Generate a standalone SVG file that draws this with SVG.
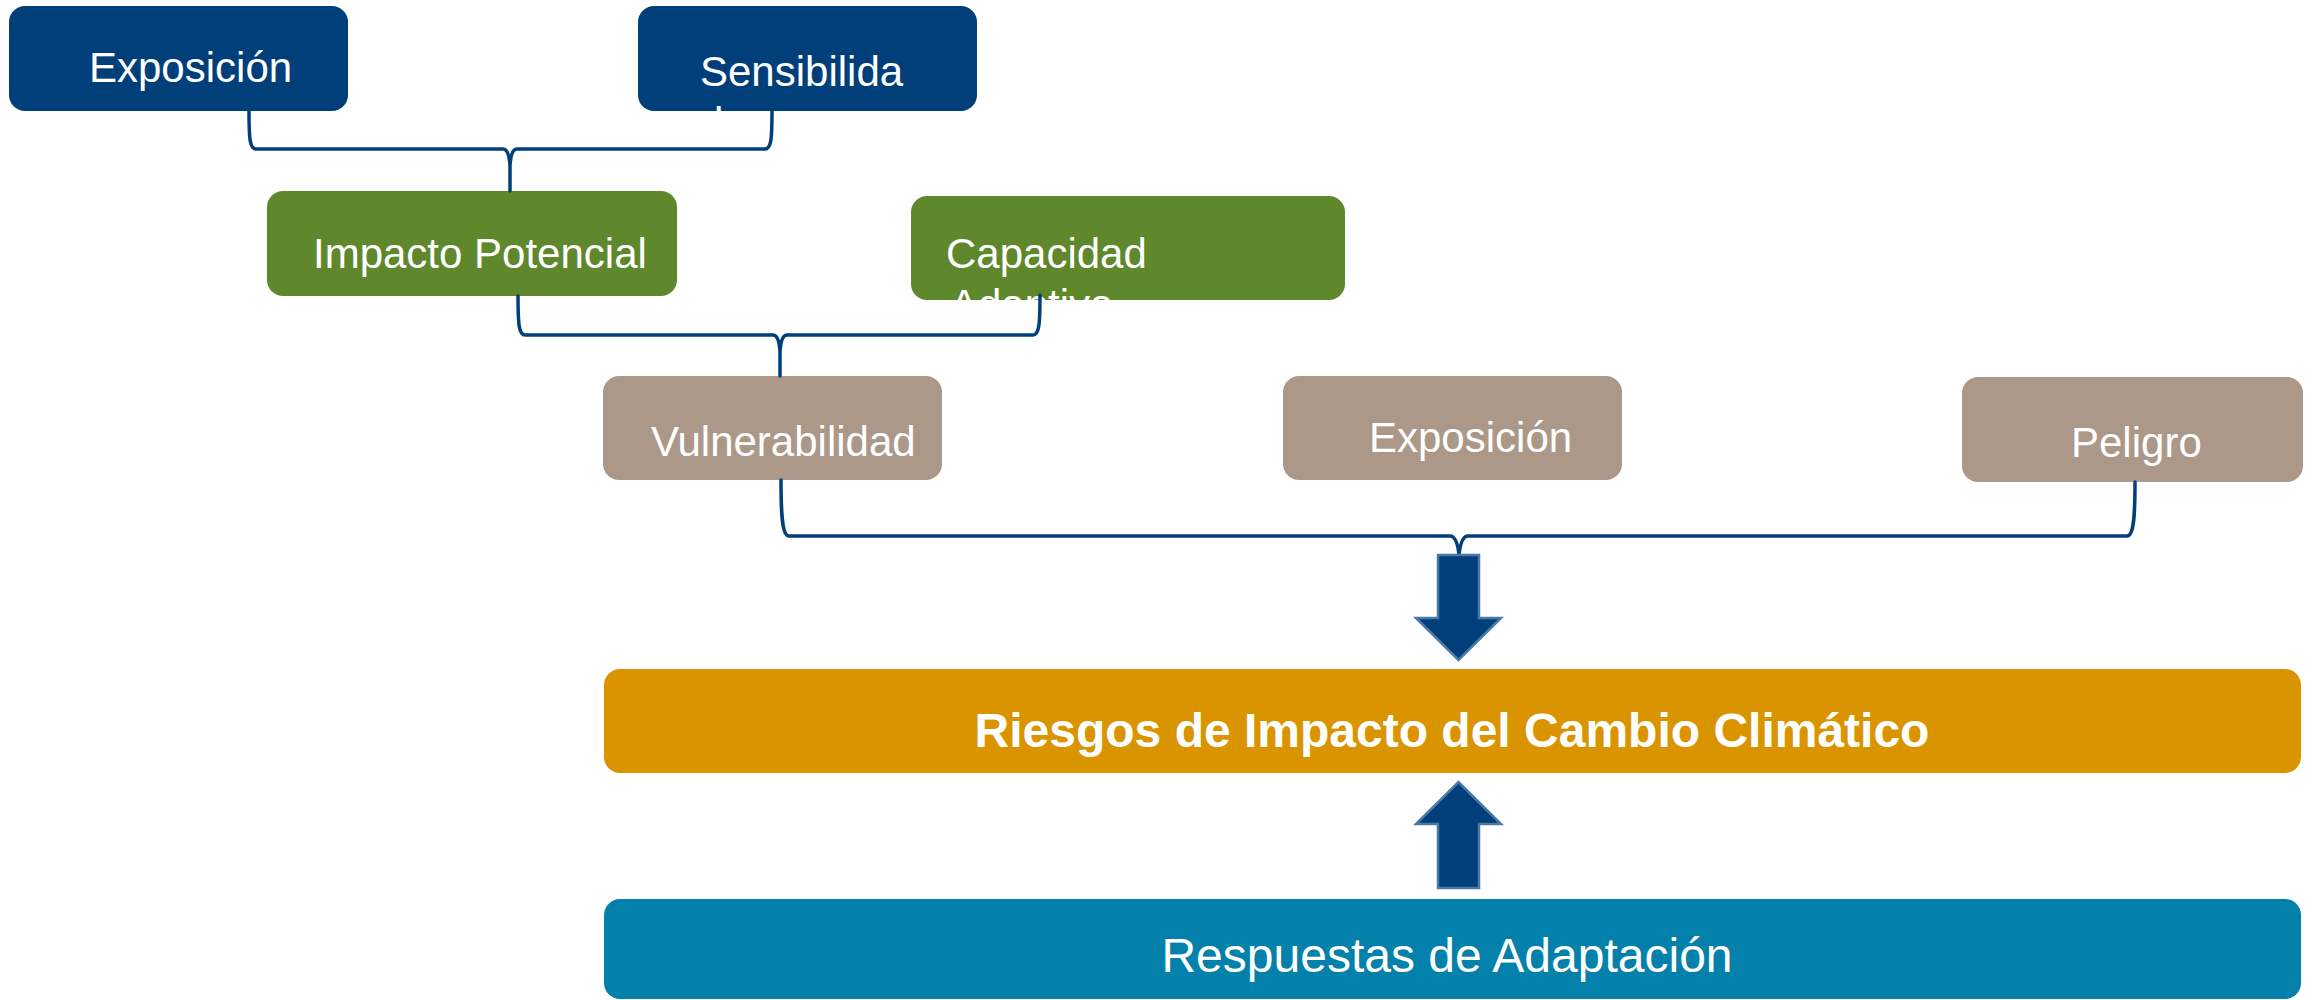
<svg xmlns="http://www.w3.org/2000/svg" width="2315" height="1000" viewBox="0 0 2315 1000">
<style>
.t{font-family:"Liberation Sans",Arial,sans-serif;font-size:42px;fill:#fff}
.blue{fill:#003F7A}
.green{fill:#5E882B}
.taupe{fill:#AB9888}
.orange{fill:#D99400}
.teal{fill:#0381AA}
.conn{fill:none;stroke:#003F7A;stroke-width:3.5;stroke-linecap:round;stroke-linejoin:round}
.arrow{fill:#003F7A;stroke:#4A79A8;stroke-width:2.5}
</style>
<rect width="2315" height="1000" fill="#fff"/>
<g id="exposicion1"><rect class="blue" x="9" y="6" width="339" height="105" rx="16"/><text class="t" x="89" y="82">Exposición</text></g>
<g id="sensibilidad"><rect class="blue" x="638" y="6" width="339" height="105" rx="16"/><text class="t" x="700" y="86">Sensibilida</text><text class="t" x="700" y="137">d</text></g>
<g id="impacto"><rect class="green" x="267" y="191" width="410" height="105" rx="16"/><text class="t" x="313" y="268">Impacto Potencial</text></g>
<g id="capacidad"><rect class="green" x="911" y="196" width="434" height="104" rx="16"/><text class="t" x="946" y="268">Capacidad</text><text class="t" x="950" y="319">Adaptiva</text></g>
<g id="vulnerabilidad"><rect class="taupe" x="603" y="376" width="339" height="104" rx="16"/><text class="t" x="651" y="456">Vulnerabilidad</text></g>
<g id="exposicion2"><rect class="taupe" x="1283" y="376" width="339" height="104" rx="16"/><text class="t" x="1369" y="452">Exposición</text></g>
<g id="peligro"><rect class="taupe" x="1962" y="377" width="341" height="105" rx="16"/><text class="t" x="2071" y="457">Peligro</text></g>
<g id="riesgos"><rect class="orange" x="604" y="669" width="1697" height="104" rx="16"/><text class="t" x="1452" y="747" text-anchor="middle" style="font-size:48px;font-weight:bold">Riesgos de Impacto del Cambio Climático</text></g>
<g id="respuestas"><rect class="teal" x="604" y="899" width="1697" height="100" rx="16"/><text class="t" x="1447" y="972" text-anchor="middle" style="font-size:48px">Respuestas de Adaptación</text></g>
<g id="connectors">
<path class="conn" d="M249,111 C249,140 250,149 256,149 L503,149 Q509,149 510,166 L510,191 M772,111 C772,140 771,149 765,149 L517,149 Q511,149 510,166"/>
<path class="conn" d="M518,296 C518,325 519,335 525,335 L773,335 Q779,335 780,352 L780,376 M1040,295 C1040,325 1039,335 1033,335 L787,335 Q781,335 780,352"/>
<path class="conn" d="M781,480 C781,515 782,536 789,536 L1450,536 Q1457,536 1459,555 M2135,482 C2135,515 2134,536 2127,536 L1468,536 Q1461,536 1459,555"/>
<path class="arrow" d="M1438,555 L1479,555 L1479,618 L1501,618 L1458.5,660 L1416,618 L1438,618 Z"/>
<path class="arrow" d="M1438,888 L1479,888 L1479,824 L1501,824 L1458.5,782 L1416,824 L1438,824 Z"/>
</g>
</svg>
